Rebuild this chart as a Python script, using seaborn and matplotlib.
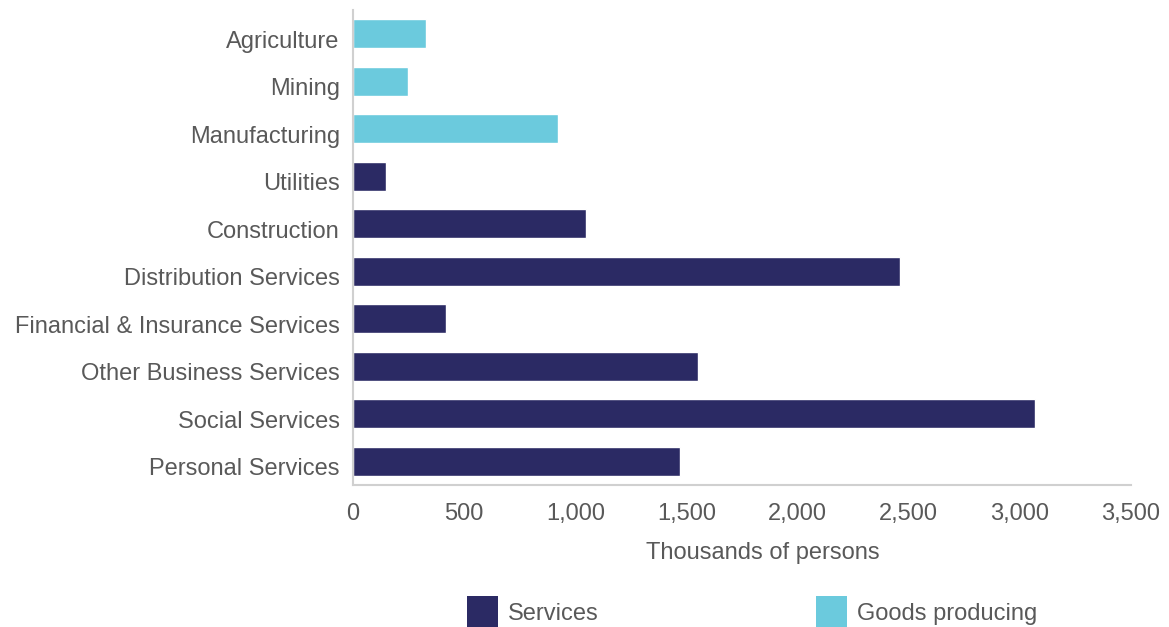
import matplotlib
matplotlib.use("Agg")
import matplotlib.pyplot as plt
import matplotlib.transforms as mtransforms
import seaborn as sns
import pandas as pd
from matplotlib.patches import Patch

industries = [
    "Agriculture", "Mining", "Manufacturing", "Utilities", "Construction",
    "Distribution Services", "Financial & Insurance Services",
    "Other Business Services", "Social Services", "Personal Services",
]
employment = [328, 247, 922, 148, 1048, 2460, 418, 1551, 3067, 1470]
sector = ["Goods producing"] * 3 + ["Services"] * 7
legend_order = ["Services", "Goods producing"]
x_ticks = [0, 500, 1000, 1500, 2000, 2500, 3000, 3500]

palette = {"Services": "#2B2A64", "Goods producing": "#6BCADD"}
text_color = "#595959"
fs = 17

df = pd.DataFrame({"industry": industries, "employment": employment, "sector": sector})

sns.set_theme(style="white")
plt.rcParams["font.family"] = ["Liberation Sans", "DejaVu Sans"]

fig = plt.figure(figsize=(11.69, 6.27), dpi=100)
ax = fig.add_axes([353 / 1169, 1 - 485 / 627, (1131 - 353) / 1169, (485 - 10) / 627])

sns.barplot(data=df, y="industry", x="employment", hue="sector", order=industries,
            palette=palette, dodge=False, width=0.61, saturation=1, ax=ax, legend=False)

ax.set_xlim(0, 3500)
ax.set_xticks(x_ticks)
ax.set_xticklabels([f"{v:,}" for v in x_ticks])
ax.set_ylim(len(industries) - 0.5, -0.5)
ax.set_ylabel("")
ax.set_xlabel("Thousands of persons", fontsize=fs, color=text_color)
ax.xaxis.set_label_coords(0.527, -0.12)
ax.tick_params(axis="both", length=0, labelsize=fs, labelcolor=text_color)
ax.tick_params(axis="x", pad=13)
ax.tick_params(axis="y", pad=9.5)

# category labels sit slightly below the bar centres
shift = mtransforms.ScaledTranslation(0, -5.5 / 100, fig.dpi_scale_trans)
for lbl in ax.get_yticklabels():
    lbl.set_transform(lbl.get_transform() + shift)

for side in ["top", "right"]:
    ax.spines[side].set_visible(False)
for side in ["left", "bottom"]:
    ax.spines[side].set_color("#D0D0D0")
    ax.spines[side].set_linewidth(1.5)

handles = [Patch(facecolor=palette[k], edgecolor="none") for k in legend_order]
fig.legend(handles, legend_order, loc="upper left", bbox_to_anchor=(467 / 1169, 1 - 596 / 627),
           ncol=2, frameon=False, fontsize=fs, labelcolor=text_color, borderpad=0,
           borderaxespad=0, handlelength=1.31, handleheight=1.7, handletextpad=0.42,
           columnspacing=9.2)

fig.savefig("out.png", dpi=100)
